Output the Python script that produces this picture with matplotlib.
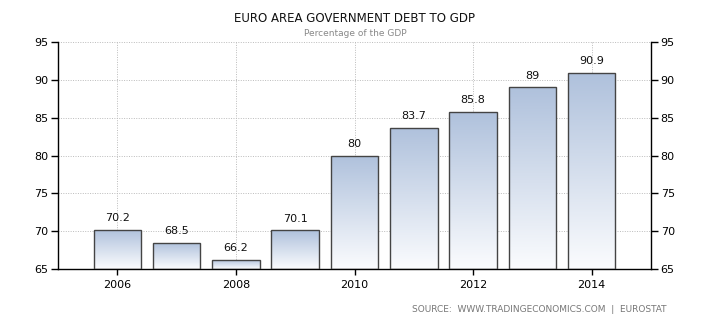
import matplotlib
matplotlib.use("Agg")
import matplotlib.pyplot as plt
import numpy as np
from matplotlib.colors import LinearSegmentedColormap

years = [2006, 2007, 2008, 2009, 2010, 2011, 2012, 2013, 2014]
debt = [70.2, 68.5, 66.2, 70.1, 80, 83.7, 85.8, 89, 90.9]
labels = ["70.2", "68.5", "66.2", "70.1", "80", "83.7", "85.8", "89", "90.9"]
xticks = [2006, 2008, 2010, 2012, 2014]
yticks = [65, 70, 75, 80, 85, 90, 95]

title = "EURO AREA GOVERNMENT DEBT TO GDP"
subtitle = "Percentage of the GDP"
source = "SOURCE:  WWW.TRADINGECONOMICS.COM  |  EUROSTAT"

plt.rcParams['font.family'] = ['DejaVu Sans']

fig = plt.figure(figsize=(7.1, 3.25), dpi=100)
ax = fig.add_axes([58/710, 1-269/325, (651-58)/710, (269-42)/325])

ymin, ymax = 65, 95
ax.set_xlim(2005, 2015)
ax.set_ylim(ymin, ymax)

cmap = LinearSegmentedColormap.from_list("g", ["#fbfcfe", "#afc1dc"])
grad = np.linspace(0, 1, 256).reshape(-1, 1)

bars = ax.bar(years, [d - ymin for d in debt], bottom=ymin, width=0.8,
              facecolor="none", edgecolor="#444444", linewidth=1.0, zorder=3)
for b, lab in zip(bars, labels):
    x0, y0 = b.get_x(), b.get_y()
    w, h = b.get_width(), b.get_height()
    im = ax.imshow(grad, extent=[x0, x0 + w, y0, y0 + h], origin="lower",
                   cmap=cmap, aspect="auto", zorder=2)
    im.set_clip_path(b)
    ax.text(x0 + w / 2, y0 + h + 0.9, lab, ha="center", va="bottom",
            fontsize=8, color="#111111", zorder=4)

ax.set_xticks(xticks)
ax.set_yticks(yticks)
ax.grid(True, linestyle=(0, (1, 1.5)), color="#bbbbbb", linewidth=0.7, zorder=0)
ax.set_axisbelow(True)

for s in ["top"]:
    ax.spines[s].set_visible(False)
for s in ["left", "right", "bottom"]:
    ax.spines[s].set_color("black")
    ax.spines[s].set_linewidth(1.0)

ax.tick_params(axis="y", which="both", left=True, right=True, labelleft=True,
               labelright=True, direction="out", length=5, width=1,
               labelsize=8, colors="black", pad=2)
ax.tick_params(axis="x", direction="out", length=4, width=1, labelsize=8, pad=4)

fig.text(0.5, 1 - 19/325, title, ha="center", va="center", fontsize=8.5,
         color="#111111")
fig.text(0.5, 1 - 34/325, subtitle, ha="center", va="center", fontsize=6.5,
         color="#888888")
fig.text(667/710, 1 - 310/325, source, ha="right", va="center", fontsize=6.5,
         color="#777777")

fig.savefig("out.png", dpi=100)
